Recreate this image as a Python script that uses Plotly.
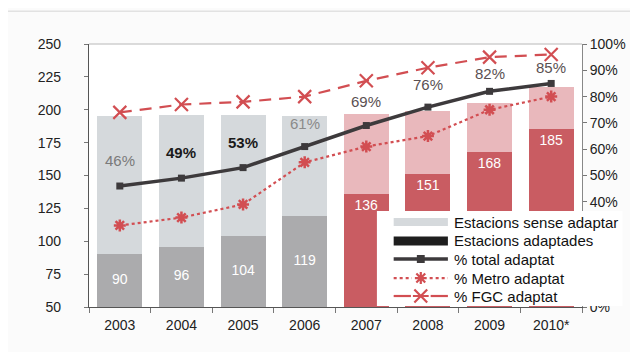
import plotly.graph_objects as go

years = ["2003", "2004", "2005", "2006", "2007", "2008", "2009", "2010*"]
adapted = [90, 96, 104, 119, 136, 151, 168, 185]
unadapted = [105, 100, 92, 76, 61, 48, 37, 32]
pct_total = [46, 49, 53, 61, 69, 76, 82, 85]
pct_metro = [31, 34, 39, 55, 61, 65, 75, 80]
pct_fgc = [74, 77, 78, 80, 86, 91, 95, 96]
pct_labels = ["46%", "49%", "53%", "61%", "69%", "76%", "82%", "85%"]
right_ticks = [0, 40, 50, 60, 70, 80, 90, 100]   # 10-30% sit behind the legend box
right_tick_text = ["0%", "40%", "50%", "60%", "70%", "80%", "90%", "100%"]
legend_names = ["Estacions sense adaptar", "Estacions adaptades",
                "% total adaptat", "% Metro adaptat", "% FGC adaptat"]

Y_MIN, Y_MAX = 50, 250
is_fgc = [False, False, False, False, True, True, True, True]

RED = "#d24e52"
DARK = "#3d3a3c"
col_adapted = ["#c95c62" if f else "#ababad" for f in is_fgc]
col_unadapted = ["#e9b8bc" if f else "#d5d9dc" for f in is_fgc]

fig = go.Figure()

fig.add_trace(go.Bar(
    x=years, y=adapted, marker=dict(color=col_adapted, line=dict(width=0)),
    text=[str(v) if f else "" for v, f in zip(adapted, is_fgc)],
    textposition="inside", insidetextanchor="end",
    textfont=dict(color="white", size=14, family="Arial"),
    showlegend=False, hoverinfo="skip"))
fig.add_trace(go.Bar(
    x=years, y=unadapted, marker=dict(color=col_unadapted, line=dict(width=0)),
    showlegend=False, hoverinfo="skip"))

# labels of the grey (Metro-period) adapted bars, centred in the visible part
gx = [y for y, f in zip(years, is_fgc) if not f]
gv = [v for v, f in zip(adapted, is_fgc) if not f]
fig.add_trace(go.Scatter(
    x=gx, y=[(Y_MIN + v) / 2 for v in gv], mode="text",
    text=[str(v) for v in gv],
    textfont=dict(color="white", size=14, family="Arial"),
    showlegend=False, hoverinfo="skip"))

fig.add_trace(go.Scatter(
    x=years, y=pct_total, yaxis="y2", mode="lines+markers",
    line=dict(color=DARK, width=3.5),
    marker=dict(symbol="square", size=7, color=DARK),
    showlegend=False, hoverinfo="skip"))
fig.add_trace(go.Scatter(
    x=years, y=pct_metro, yaxis="y2", mode="lines+markers",
    line=dict(color=RED, width=2.2, dash="dot"),
    marker=dict(symbol="asterisk-open", size=10, line=dict(color=RED, width=2.5)),
    showlegend=False, hoverinfo="skip"))
fig.add_trace(go.Scatter(
    x=years, y=pct_fgc, yaxis="y2", mode="lines+markers",
    line=dict(color=RED, width=2.2, dash="12px,8px"),
    marker=dict(symbol="x-thin-open", size=13, line=dict(color=RED, width=2.2)),
    showlegend=False, hoverinfo="skip"))

label_colors = ["#7a7a7a", "#1a1a1a", "#1a1a1a", "#8a8a8a",
                "#5a5052", "#5a5052", "#5a5052", "#5a5052"]
label_bold = [False, True, True, False, False, False, False, False]
label_shift = [26, 26, 25, 23, 24, 23, 18, 16]
for i, (p, t, c, b, s) in enumerate(zip(pct_total, pct_labels, label_colors, label_bold, label_shift)):
    fig.add_annotation(x=i, y=p, xref="x", yref="y2", yshift=s, showarrow=False,
                       text=f"<b>{t}</b>" if b else t,
                       font=dict(size=15, color=c, family="Arial"))

# faint outer frame + top border of plot
fig.add_shape(type="line", xref="paper", yref="paper", x0=-0.2, x1=1.2, y0=1.125, y1=1.125,
              line=dict(color="#e2e2e2", width=1.5))
fig.add_shape(type="line", xref="paper", yref="paper", x0=0, x1=1, y0=1, y1=1,
              line=dict(color="#cfcfcf", width=1.5))

# ---- hand-built legend (white box over the bars) ----
PW, PH = 500.0, 263.0          # plot area size in px
def px(dx):
    return dx / PW
def py(dy):
    return dy / PH

fig.add_shape(type="rect", xref="paper", yref="paper", layer="above",
              x0=0.584, x1=1.082, y0=0.004, y1=0.365,
              fillcolor="#ffffff", line=dict(width=0))
sx0, sx1, tx = 0.618, 0.728, 0.736
sxc = (sx0 + sx1) / 2
rows = [0.323, 0.251, 0.1825, 0.110, 0.0418]

fig.add_shape(type="rect", xref="paper", yref="paper", layer="above",
              x0=sx0, x1=sx1, y0=rows[0] - py(4), y1=rows[0] + py(4),
              fillcolor="#d5d9dc", line=dict(width=0))
fig.add_shape(type="rect", xref="paper", yref="paper", layer="above",
              x0=sx0, x1=sx1, y0=rows[1] - py(4.5), y1=rows[1] + py(4.5),
              fillcolor="#1e1e1e", line=dict(width=0))
fig.add_shape(type="line", xref="paper", yref="paper", layer="above",
              x0=sx0, x1=sx1, y0=rows[2], y1=rows[2], line=dict(color=DARK, width=3.5))
fig.add_shape(type="rect", xref="paper", yref="paper", layer="above",
              x0=sxc - px(4), x1=sxc + px(4), y0=rows[2] - py(4), y1=rows[2] + py(4),
              fillcolor=DARK, line=dict(width=0))
fig.add_shape(type="line", xref="paper", yref="paper", layer="above",
              x0=sx0, x1=sxc - px(9), y0=rows[3], y1=rows[3], line=dict(color=RED, width=2.2, dash="dot"))
fig.add_shape(type="line", xref="paper", yref="paper", layer="above",
              x0=sxc + px(9), x1=sx1, y0=rows[3], y1=rows[3], line=dict(color=RED, width=2.2, dash="dot"))
ast = (f"M{sxc - px(6)},{rows[3]} L{sxc + px(6)},{rows[3]} "
       f"M{sxc},{rows[3] - py(6)} L{sxc},{rows[3] + py(6)} "
       f"M{sxc - px(4.5)},{rows[3] - py(4.5)} L{sxc + px(4.5)},{rows[3] + py(4.5)} "
       f"M{sxc - px(4.5)},{rows[3] + py(4.5)} L{sxc + px(4.5)},{rows[3] - py(4.5)}")
fig.add_shape(type="path", xref="paper", yref="paper", layer="above", path=ast,
              line=dict(color=RED, width=2.2))
fig.add_shape(type="line", xref="paper", yref="paper", layer="above",
              x0=sx0, x1=sxc - px(10), y0=rows[4], y1=rows[4], line=dict(color=RED, width=2.2))
fig.add_shape(type="line", xref="paper", yref="paper", layer="above",
              x0=sxc + px(10), x1=sx1, y0=rows[4], y1=rows[4], line=dict(color=RED, width=2.2))
xm = (f"M{sxc - px(6.5)},{rows[4] - py(6.5)} L{sxc + px(6.5)},{rows[4] + py(6.5)} "
      f"M{sxc - px(6.5)},{rows[4] + py(6.5)} L{sxc + px(6.5)},{rows[4] - py(6.5)} "
      f"M{sxc - px(8)},{rows[4]} L{sxc + px(8)},{rows[4]}")
fig.add_shape(type="path", xref="paper", yref="paper", layer="above", path=xm,
              line=dict(color=RED, width=2.2))

for name, ry in zip(legend_names, rows):
    fig.add_annotation(x=tx, y=ry, xref="paper", yref="paper", xanchor="left", yanchor="middle",
                       showarrow=False, text=name,
                       font=dict(size=15, color="#111", family="Arial"))

# the page has an 8 px body margin, so the figure is sized/shifted to compensate
fig.update_layout(
    width=630, height=344,
    margin=dict(l=81, r=49, t=36, b=45),
    paper_bgcolor="#fbfbfb", plot_bgcolor="#ffffff",
    barmode="stack", bargap=0.27,
    showlegend=False,
    font=dict(family="Arial", size=14, color="#222"),
    xaxis=dict(type="category", range=[-0.5, len(years) - 0.5],
               showline=True, linecolor="#555", linewidth=1.2,
               ticks="outside", tickson="boundaries", ticklen=5, tickcolor="#777",
               ticklabelstandoff=5,
               tickfont=dict(size=14, color="#222"), showgrid=False),
    yaxis=dict(range=[Y_MIN, Y_MAX], dtick=25, showline=True, linecolor="#555", linewidth=1.2,
               ticks="outside", ticklen=4, tickcolor="#777", showgrid=False, zeroline=False,
               ticklabelstandoff=20,
               tickfont=dict(size=14, color="#222")),
    yaxis2=dict(range=[0, 100], tickmode="array", tickvals=right_ticks, ticktext=right_tick_text,
                overlaying="y", side="right",
                showline=True, linecolor="#888", linewidth=1, ticks="outside", ticklen=4,
                tickcolor="#777", showgrid=False, zeroline=False,
                tickfont=dict(size=14, color="#222")),
)

fig.write_html("out.html")
